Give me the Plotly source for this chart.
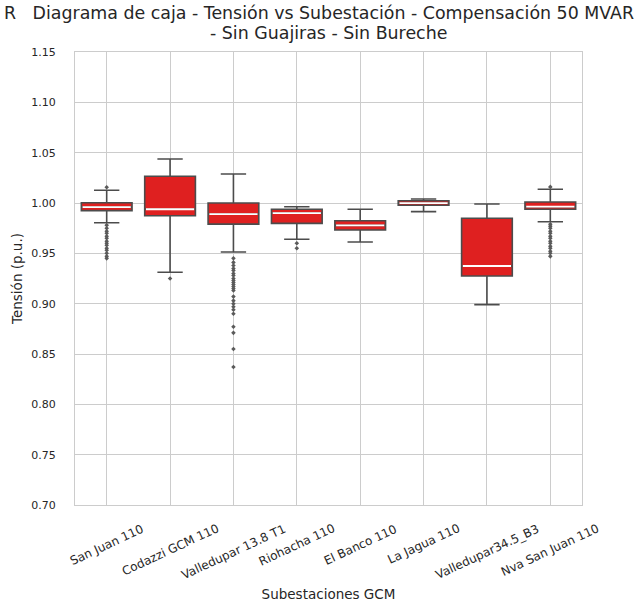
import plotly.graph_objects as go

# ---------------- data ----------------
stations = ["San Juan 110", "Codazzi GCM 110", "Valledupar 13.8 T1", "Riohacha 110",
            "El Banco 110", "La Jagua 110", "Valledupar34.5_B3", "Nva San Juan 110"]
q1 = [0.9924, 0.9874, 0.9790, 0.9798, 0.9732, 0.9977, 0.9275, 0.9938]
median = [0.9960, 0.9938, 0.9890, 0.9900, 0.9778, 0.9998, 0.9374, 0.9963]
q3 = [1.0003, 1.0265, 1.0000, 0.9938, 0.9824, 1.0023, 0.9848, 1.0010]
lowerfence = [0.9804, 0.9312, 0.9513, 0.9640, 0.9613, 0.9914, 0.8990, 0.9814]
upperfence = [1.0126, 1.0437, 1.0288, 0.9963, 0.9938, 1.0040, 0.9990, 1.0136]

outliers_san_juan = [1.0156, 0.978, 0.975, 0.972, 0.970, 0.967, 0.965, 0.962, 0.960,
                     0.958, 0.955, 0.953, 0.950, 0.947, 0.945]
outliers_codazzi = [0.925]
outliers_valledupar138 = [0.945, 0.941, 0.938, 0.935, 0.933, 0.930, 0.928, 0.925, 0.923,
                          0.921, 0.919, 0.917, 0.915, 0.913, 0.907, 0.903, 0.900, 0.897,
                          0.894, 0.890, 0.877, 0.871, 0.855, 0.837]
outliers_riohacha = [0.960, 0.955]
outliers_nva_san_juan = [1.016, 0.979, 0.977, 0.975, 0.972, 0.970, 0.967, 0.965, 0.962,
                         0.960, 0.957, 0.955, 0.952, 0.950, 0.947]

outlier_station = (["San Juan 110"] * len(outliers_san_juan)
                   + ["Codazzi GCM 110"] * len(outliers_codazzi)
                   + ["Valledupar 13.8 T1"] * len(outliers_valledupar138)
                   + ["Riohacha 110"] * len(outliers_riohacha)
                   + ["Nva San Juan 110"] * len(outliers_nva_san_juan))
outlier_values = (outliers_san_juan + outliers_codazzi + outliers_valledupar138
                  + outliers_riohacha + outliers_nva_san_juan)

title_line1 = "R\u00a0\u00a0\u00a0Diagrama de caja - Tensión vs Subestación - Compensación 50 MVAR"
title_line2 = "- Sin Guajiras - Sin Bureche"
y_title = "Tensión (p.u.)"
x_title = "Subestaciones GCM"

# ---------------- styling ----------------
FONT = "DejaVu Sans"
TEXT = "#262626"
GRID = "#cccccc"
BOX_FILL = "#df2020"
BOX_LINE = "#4c4c4c"
W, H = 639, 604
TITLE_SIZE = 17.4

fig = go.Figure()

fig.add_trace(go.Box(
    x=stations, q1=q1, median=median, q3=q3,
    lowerfence=lowerfence, upperfence=upperfence,
    fillcolor=BOX_FILL, line=dict(color=BOX_LINE, width=1.6),
    width=0.8, whiskerwidth=0.5, boxpoints=False,
    showlegend=False, hoverinfo="skip",
))

# white median lines (degenerate boxes at the median)
fig.add_trace(go.Box(
    x=stations, q1=median, median=median, q3=median,
    lowerfence=median, upperfence=median,
    fillcolor="rgba(0,0,0,0)", line=dict(color="white", width=1.8),
    width=0.76, whiskerwidth=0, boxpoints=False,
    showlegend=False, hoverinfo="skip",
))

fig.add_trace(go.Scatter(
    x=outlier_station, y=outlier_values, mode="markers",
    marker=dict(symbol="diamond", size=3.5, color="#5a5a5a"),
    showlegend=False, hoverinfo="skip",
))

# rotated category labels, centred under each tick (matplotlib style)
annotations = []
for s in stations:
    annotations.append(dict(
        x=s, xref="x", y=0, yref="paper", yanchor="top", xanchor="center",
        yshift=-14, text=s, textangle=-25, showarrow=False,
        font=dict(family=FONT, size=12, color=TEXT),
    ))
annotations.append(dict(
    x=0.5, xref="paper", y=1, yref="paper", yshift=19, yanchor="middle",
    xanchor="center", text=title_line2, showarrow=False,
    font=dict(family=FONT, size=TITLE_SIZE, color=TEXT),
))

fig.update_layout(
    width=W, height=H,
    margin=dict(l=75, r=57, t=52, b=99),
    paper_bgcolor="white", plot_bgcolor="white",
    boxmode="overlay",
    font=dict(family=FONT, size=11, color=TEXT),
    title=dict(text=title_line1, x=634 / W, xanchor="right", xref="container",
               y=1 - 13 / H, yanchor="middle", yref="container",
               font=dict(family=FONT, size=TITLE_SIZE, color=TEXT)),
    annotations=annotations,
)

fig.update_xaxes(
    type="category", categoryorder="array", categoryarray=stations,
    range=[-0.5, 7.5], showticklabels=False, ticks="",
    showgrid=True, gridcolor=GRID, gridwidth=1,
    showline=True, linecolor=GRID, linewidth=1.2, mirror=True,
    zeroline=False,
    title=dict(text=x_title, standoff=84, font=dict(family=FONT, size=13.5, color=TEXT)),
    automargin=False,
)
fig.update_yaxes(
    range=[0.70, 1.15], dtick=0.05, tick0=0.70, tickformat=".2f",
    ticks="", ticklabelstandoff=16,
    showgrid=True, gridcolor=GRID, gridwidth=1,
    showline=True, linecolor=GRID, linewidth=1.2, mirror=True,
    zeroline=False,
    tickfont=dict(family=FONT, size=11, color=TEXT),
    title=dict(text=y_title, standoff=5, font=dict(family=FONT, size=13.5, color=TEXT)),
    automargin=False,
)

fig.write_html("out.html", config={"displayModeBar": False},
               post_script="document.body.style.margin='0';")
